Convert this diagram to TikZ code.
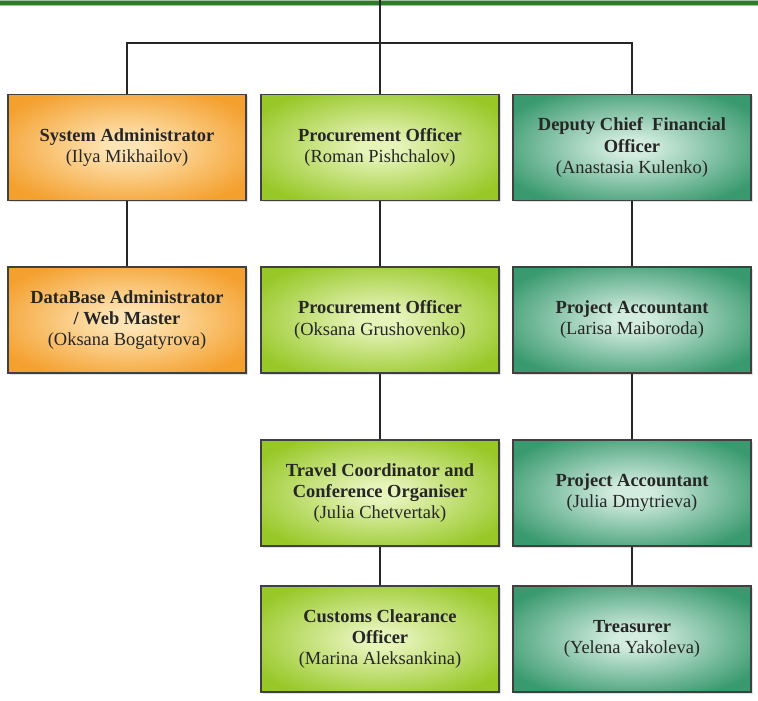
\documentclass[tikz,border=0pt]{standalone}
\usepackage{fontspec}
\setmainfont{Liberation Serif}
\usetikzlibrary{shadows}
\definecolor{orangeout}{HTML}{F4A02E}
\definecolor{orangein}{HTML}{FEE4B4}
\definecolor{limeout}{HTML}{98C828}
\definecolor{limein}{HTML}{E6F4BA}
\definecolor{tealout}{HTML}{3A9A6F}
\definecolor{tealin}{HTML}{D2ECDF}
\definecolor{rule}{HTML}{2F7A2A}
\pgfdeclareradialshading{orangeglow}{\pgfpoint{0bp}{0bp}}{color(0bp)=(orangein); color(4bp)=(orangein); color(30bp)=(orangeout); color(50bp)=(orangeout)}
\pgfdeclareradialshading{limeglow}{\pgfpoint{0bp}{0bp}}{color(0bp)=(limein); color(4bp)=(limein); color(30bp)=(limeout); color(50bp)=(limeout)}
\pgfdeclareradialshading{tealglow}{\pgfpoint{0bp}{0bp}}{color(0bp)=(tealin); color(4bp)=(tealin); color(30bp)=(tealout); color(50bp)=(tealout)}
\tikzset{
  post/.style={draw=black!75, line width=0.8pt, minimum width=47.6mm,
    minimum height=21.2mm, align=center, font=\fontsize{10.5}{12}\selectfont,
    drop shadow={opacity=0.25, shadow xshift=0.4mm, shadow yshift=-0.4mm}},
  it/.style={post, shading=orangeglow, text=black!85},
  buy/.style={post, shading=limeglow, text=black!85},
  fin/.style={post, shading=tealglow, text=black!85},
  link/.style={draw=black!85, line width=1.1pt}
}
\begin{document}
\begin{tikzpicture}[x=0.2mm, y=-0.2mm]
\useasboundingbox (0,0) rectangle (758,701);
% top rule
\draw[line width=1.4mm, rule!45] (0,3) -- (758,3);
\draw[line width=0.7mm, rule] (0,3) -- (758,3);
\coordinate (top) at (380,0);
\coordinate (bus) at (380,43);
% IT column
\node[it] (sa) at (127,147.5) {\textbf{System Administrator}\\(Ilya Mikhailov)};
\node[it] (dba) at (127,320) {\textbf{DataBase Administrator}\\\textbf{/ Web Master}\\(Oksana Bogatyrova)};
% procurement column
\node[buy] (po1) at (380,147.5) {\textbf{Procurement Officer}\\(Roman Pishchalov)};
\node[buy] (po2) at (380,320) {\textbf{Procurement Officer}\\(Oksana Grushovenko)};
\node[buy] (tc) at (380,493) {\textbf{Travel Coordinator and}\\\textbf{Conference Organiser}\\(Julia Chetvertak)};
\node[buy] (cco) at (380,639) {\textbf{Customs Clearance}\\\textbf{Officer}\\(Marina Aleksankina)};
% finance column
\node[fin] (dcfo) at (632,147.5) {\textbf{Deputy Chief\ \ Financial}\\\textbf{Officer}\\(Anastasia Kulenko)};
\node[fin] (pa1) at (632,320) {\textbf{Project Accountant}\\(Larisa Maiboroda)};
\node[fin] (pa2) at (632,493) {\textbf{Project Accountant}\\(Julia Dmytrieva)};
\node[fin] (tr) at (632,639) {\textbf{Treasurer}\\(Yelena Yakoleva)};
\draw[link] (top) -- (po1);
\draw[link] (sa.north) |- (bus) -| (dcfo.north);
\draw[link]
    (sa) edge[link] (dba)
    (po1) edge[link] (po2)
    (po2) edge[link] (tc)
    (tc) edge[link] (cco)
    (dcfo) edge[link] (pa1)
    (pa1) edge[link] (pa2)
    (pa2) edge[link] (tr);
\end{tikzpicture}
\end{document}
